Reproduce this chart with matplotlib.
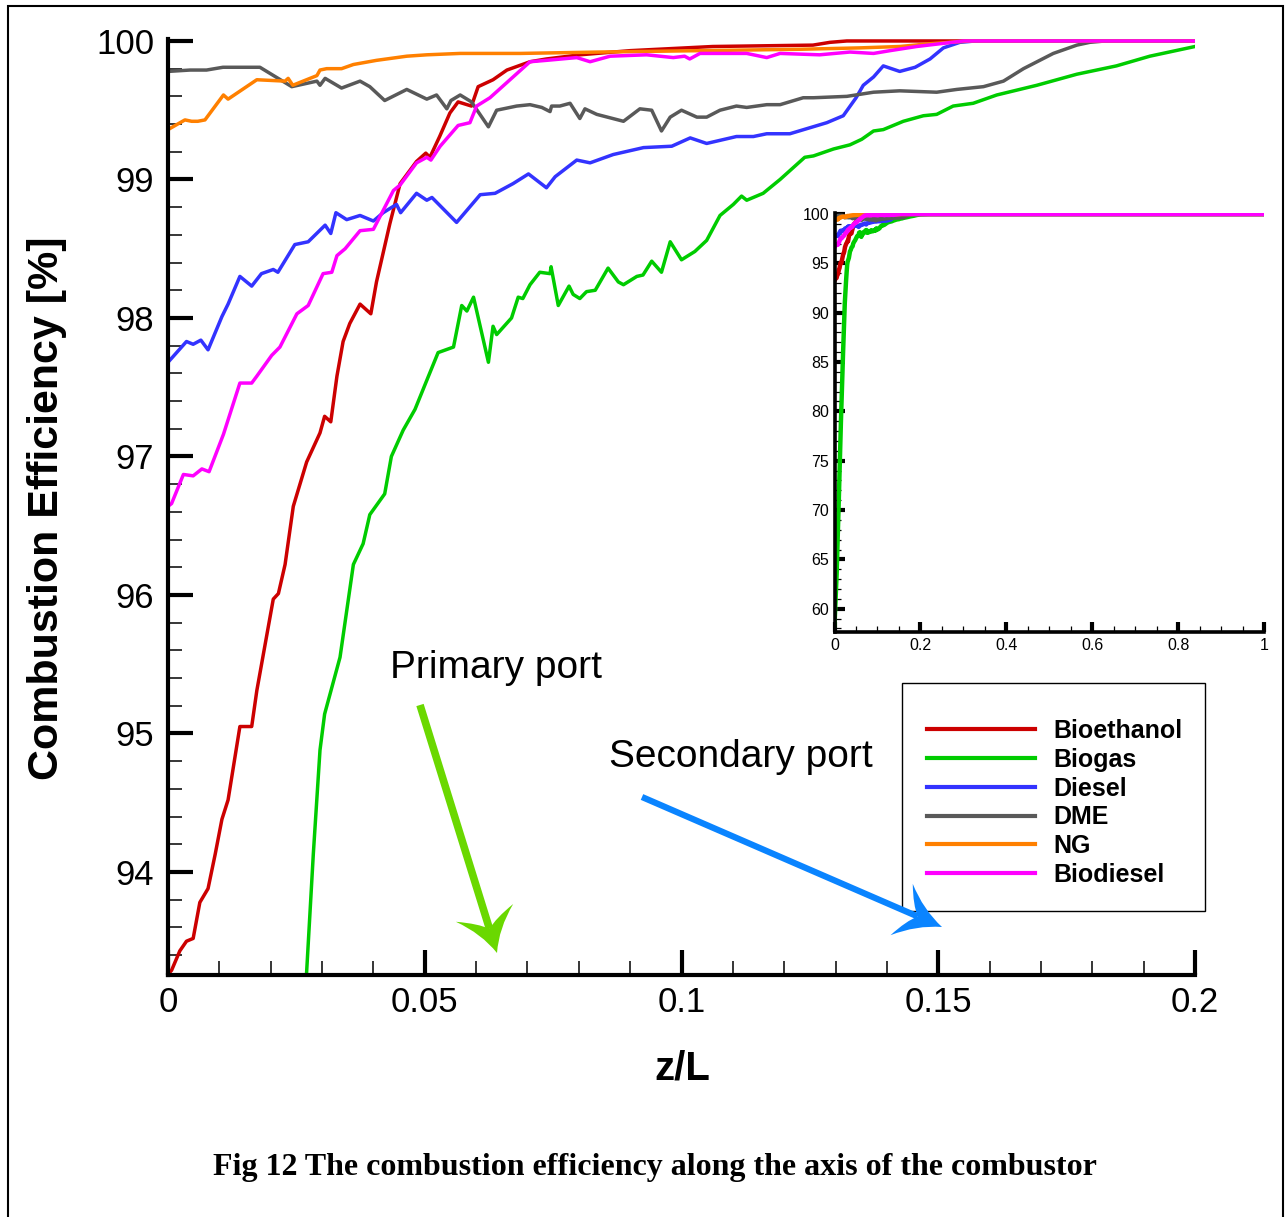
import numpy as np
import matplotlib.pyplot as plt
from matplotlib.lines import Line2D
from matplotlib.patches import PathPatch, Rectangle
from matplotlib.path import Path
from matplotlib.ticker import MultipleLocator

plt.rcParams['font.family'] = ['Liberation Sans', 'DejaVu Sans']

W, H = 1286, 1217

# ---- data: z/L and combustion efficiency [%] ----
x_bioethanol = [0.0, 0.0007, 0.0023, 0.0036, 0.0049, 0.0062, 0.0078, 0.0092, 0.0105, 0.0117,
                0.0140, 0.0163, 0.0173, 0.0205, 0.0215, 0.0228, 0.0244, 0.0270, 0.0296, 0.0305,
                0.0317, 0.0329, 0.0341, 0.0354, 0.0374, 0.0395, 0.0406, 0.0432, 0.0452, 0.0484,
                0.0502, 0.0510, 0.0529, 0.0549, 0.0565, 0.0591, 0.0604, 0.0633, 0.0660, 0.0705,
                0.0737, 0.0802, 0.0900, 0.1061, 0.1256, 0.1289, 0.1322, 1.0]
y_bioethanol = [93.26, 93.29, 93.43, 93.50, 93.52, 93.78, 93.88, 94.13, 94.38, 94.52,
                95.05, 95.05, 95.31, 95.97, 96.01, 96.22, 96.64, 96.96, 97.17, 97.29,
                97.25, 97.58, 97.83, 97.96, 98.10, 98.03, 98.26, 98.68, 98.97, 99.13,
                99.19, 99.16, 99.31, 99.48, 99.56, 99.53, 99.67, 99.72, 99.79, 99.85,
                99.87, 99.90, 99.93, 99.96, 99.97, 99.99, 100.0, 100.0]

x_biogas = [0.0, 0.005, 0.010, 0.015, 0.020, 0.024, 0.0270, 0.0283, 0.0296, 0.0305,
            0.0335, 0.0361, 0.0380, 0.0393, 0.0422, 0.0435, 0.0458, 0.0481, 0.0504, 0.0526,
            0.0556, 0.0572, 0.0582, 0.0595, 0.0624, 0.0633, 0.0640, 0.0669, 0.0682, 0.0691,
            0.0705, 0.0724, 0.0744, 0.0746, 0.0760, 0.0781, 0.0789, 0.0802, 0.0815, 0.0832,
            0.0857, 0.0877, 0.0887, 0.0913, 0.0925, 0.0942, 0.0961, 0.0978, 0.1000, 0.1026,
            0.1049, 0.1075, 0.1101, 0.1117, 0.1127, 0.1159, 0.1192, 0.1240, 0.1257, 0.1296,
            0.1328, 0.1351, 0.1374, 0.1393, 0.1432, 0.1471, 0.1497, 0.1529, 0.1568, 0.1614,
            0.1692, 0.1770, 0.1847, 0.1912, 0.2000, 0.2200, 1.0]
y_biogas = [58.3, 63.5, 71.0, 79.0, 86.0, 91.0, 93.28, 94.13, 94.88, 95.14,
            95.55, 96.22, 96.37, 96.58, 96.73, 97.00, 97.19, 97.34, 97.55, 97.75,
            97.79, 98.09, 98.05, 98.15, 97.68, 97.94, 97.88, 98.00, 98.15, 98.14,
            98.24, 98.33, 98.32, 98.37, 98.09, 98.23, 98.17, 98.14, 98.19, 98.20,
            98.36, 98.26, 98.24, 98.30, 98.31, 98.41, 98.33, 98.55, 98.42, 98.48,
            98.56, 98.74, 98.82, 98.88, 98.85, 98.90, 99.00, 99.16, 99.17, 99.22,
            99.25, 99.29, 99.35, 99.36, 99.42, 99.46, 99.47, 99.53, 99.55, 99.61,
            99.68, 99.76, 99.82, 99.89, 99.96, 100.0, 100.0]

x_diesel = [0.0, 0.0036, 0.0049, 0.0064, 0.0078, 0.0105, 0.0117, 0.0140, 0.0163, 0.0182,
            0.0205, 0.0214, 0.0247, 0.0273, 0.0306, 0.0317, 0.0327, 0.0348, 0.0374, 0.0400,
            0.0419, 0.0445, 0.0453, 0.0484, 0.0504, 0.0514, 0.0562, 0.0608, 0.0637, 0.0672,
            0.0702, 0.0737, 0.0754, 0.0796, 0.0822, 0.0867, 0.0926, 0.0981, 0.1017, 0.1049,
            0.1107, 0.1140, 0.1166, 0.1211, 0.1283, 0.1315, 0.1340, 0.1354, 0.1374, 0.1393,
            0.1425, 0.1455, 0.1484, 0.1510, 0.1542, 0.1572, 1.0]
y_diesel = [97.68, 97.83, 97.81, 97.84, 97.77, 98.01, 98.10, 98.30, 98.23, 98.32,
            98.35, 98.33, 98.53, 98.55, 98.67, 98.61, 98.76, 98.71, 98.74, 98.70,
            98.76, 98.82, 98.76, 98.90, 98.85, 98.87, 98.69, 98.89, 98.90, 98.97,
            99.04, 98.94, 99.02, 99.14, 99.12, 99.18, 99.23, 99.24, 99.30, 99.26,
            99.31, 99.31, 99.33, 99.33, 99.41, 99.46, 99.59, 99.68, 99.74, 99.82,
            99.78, 99.81, 99.87, 99.95, 99.99, 100.0, 100.0]

x_dme = [0.0, 0.0043, 0.0075, 0.0107, 0.0179, 0.0241, 0.0290, 0.0296, 0.0306, 0.0338,
         0.0374, 0.0393, 0.0422, 0.0465, 0.0504, 0.0523, 0.0543, 0.0551, 0.0569, 0.0591,
         0.0624, 0.0640, 0.0679, 0.0705, 0.0728, 0.0744, 0.0747, 0.0763, 0.0783, 0.0802,
         0.0812, 0.0835, 0.0887, 0.0919, 0.0942, 0.0961, 0.0978, 0.1000, 0.1030, 0.1049,
         0.1075, 0.1107, 0.1127, 0.1166, 0.1192, 0.1237, 0.1257, 0.1322, 0.1374, 0.1425,
         0.1497, 0.1536, 0.1588, 0.1627, 0.1666, 0.1724, 0.1770, 0.1795, 0.1825, 1.0]
y_dme = [99.78, 99.79, 99.79, 99.81, 99.81, 99.67, 99.71, 99.68, 99.73, 99.66,
         99.71, 99.67, 99.57, 99.65, 99.58, 99.61, 99.51, 99.57, 99.61, 99.56,
         99.38, 99.50, 99.53, 99.54, 99.52, 99.49, 99.53, 99.53, 99.55, 99.44,
         99.51, 99.47, 99.42, 99.51, 99.50, 99.35, 99.45, 99.50, 99.45, 99.45,
         99.50, 99.53, 99.52, 99.54, 99.54, 99.59, 99.59, 99.60, 99.63, 99.64,
         99.63, 99.65, 99.67, 99.71, 99.80, 99.91, 99.97, 99.99, 100.0, 100.0]

x_ng = [0.0, 0.0033, 0.0046, 0.0058, 0.0072, 0.0108, 0.0117, 0.0173, 0.0228, 0.0234,
        0.0243, 0.0290, 0.0296, 0.0309, 0.0338, 0.0361, 0.0406, 0.0465, 0.0504, 0.0569,
        0.0686, 0.0841, 0.1036, 0.1230, 0.1347, 0.1425, 0.1484, 0.1523, 0.1562, 1.0]
y_ng = [99.36, 99.43, 99.42, 99.42, 99.43, 99.61, 99.58, 99.72, 99.71, 99.73,
        99.68, 99.75, 99.79, 99.80, 99.80, 99.83, 99.86, 99.89, 99.90, 99.91,
        99.91, 99.92, 99.93, 99.94, 99.95, 99.96, 99.98, 99.99, 100.0, 100.0]

x_biodiesel = [0.0, 0.0007, 0.0030, 0.0049, 0.0066, 0.0080, 0.0108, 0.0140, 0.0163, 0.0173,
               0.0202, 0.0218, 0.0251, 0.0273, 0.0302, 0.0319, 0.0329, 0.0345, 0.0374, 0.0400,
               0.0439, 0.0452, 0.0484, 0.0504, 0.0512, 0.0530, 0.0565, 0.0588, 0.0601, 0.0627,
               0.0705, 0.0737, 0.0796, 0.0822, 0.0861, 0.0932, 0.0984, 0.1006, 0.1016, 0.1036,
               0.1127, 0.1166, 0.1192, 0.1269, 0.1328, 0.1374, 0.1406, 0.1458, 0.1549, 1.0]
y_biodiesel = [96.64, 96.66, 96.87, 96.86, 96.91, 96.89, 97.16, 97.53, 97.53, 97.58,
               97.73, 97.79, 98.03, 98.09, 98.32, 98.33, 98.45, 98.50, 98.63, 98.64,
               98.92, 98.96, 99.12, 99.16, 99.14, 99.24, 99.39, 99.41, 99.53, 99.59,
               99.85, 99.86, 99.88, 99.85, 99.89, 99.90, 99.88, 99.89, 99.87, 99.91,
               99.91, 99.88, 99.91, 99.90, 99.92, 99.91, 99.93, 99.96, 100.0, 100.0]

names = ['Bioethanol', 'Biogas', 'Diesel', 'DME', 'NG', 'Biodiesel']
colors = ['#cc0000', '#00cc00', '#3333ff', '#595959', '#ff8000', '#ff00ff']
series = [(x_bioethanol, y_bioethanol), (x_biogas, y_biogas), (x_diesel, y_diesel),
          (x_dme, y_dme), (x_ng, y_ng), (x_biodiesel, y_biodiesel)]

main_xticks = [0, 0.05, 0.1, 0.15, 0.2]
main_xlabels = ['0', '0.05', '0.1', '0.15', '0.2']
main_yticks = [94, 95, 96, 97, 98, 99, 100]
main_ylabels = ['94', '95', '96', '97', '98', '99', '100']
inset_xticks = [0, 0.2, 0.4, 0.6, 0.8, 1.0]
inset_xlabels = ['0', '0.2', '0.4', '0.6', '0.8', '1']
inset_yticks = [60, 65, 70, 75, 80, 85, 90, 95, 100]
inset_ylabels = ['60', '65', '70', '75', '80', '85', '90', '95', '100']

fig = plt.figure(figsize=(W / 100, H / 100), dpi=100)

# ---- main axes ----
ymin, ymax = 93.256, 100.012
ax = fig.add_axes([168 / W, 1 - 975 / H, (1195 - 168) / W, (975 - 39.3) / H])
for (x, y), c, n in zip(series, colors, names):
    ax.plot(x, y, color=c, lw=2.5, label=n)
ax.set_xlim(0, 0.2)
ax.set_ylim(ymin, ymax)
for s in ['top', 'right']:
    ax.spines[s].set_visible(False)
for s in ['left', 'bottom']:
    ax.spines[s].set_linewidth(3)
ax.set_xticks(main_xticks, main_xlabels)
ax.set_yticks(main_yticks, main_ylabels)
ax.xaxis.set_minor_locator(MultipleLocator(0.01))
ax.yaxis.set_minor_locator(MultipleLocator(0.2))
ax.tick_params(which='major', direction='in', length=18, width=3, labelsize=25)
ax.tick_params(which='minor', direction='in', length=10, width=1.1)
ax.tick_params(axis='y', which='major', pad=10)
ax.tick_params(axis='x', which='major', pad=8)

# legend box drawn separately so its padding matches the original
ax.add_patch(Rectangle((902 / W, 1 - 911 / H), (1205 - 902) / W, (911 - 683) / H,
                       fc='white', ec='black', lw=1.0, transform=fig.transFigure,
                       clip_on=False, zorder=4))
leg = ax.legend(loc='upper left', bbox_to_anchor=(902 / W, 1 - 694 / H),
                bbox_transform=fig.transFigure, borderaxespad=0, frameon=False,
                handlelength=4.3, handletextpad=0.76, labelspacing=0.19, borderpad=1.0,
                prop={'weight': 'bold', 'size': 18})
leg.set_zorder(5)
for line in leg.get_lines():
    line.set_linewidth(3)

# ---- inset ----
ins = fig.add_axes([834.5 / W, 1 - 632 / H, (1264 - 834.5) / W, (632 - 212.5) / H])
for (x, y), c in zip(series, colors):
    ins.plot(x, y, color=c, lw=3.2)
ins.set_xlim(0, 1)
ins.set_ylim(57.64, 100.15)
for s in ['top', 'right']:
    ins.spines[s].set_visible(False)
for s in ['left', 'bottom']:
    ins.spines[s].set_linewidth(2.6)
ins.set_xticks(inset_xticks, inset_xlabels)
ins.set_yticks(inset_yticks, inset_ylabels)
ins.xaxis.set_minor_locator(MultipleLocator(0.05))
ins.yaxis.set_minor_locator(MultipleLocator(1))
ins.tick_params(which='major', direction='in', length=7, width=3, labelsize=11.5, pad=4)
ins.tick_params(which='minor', direction='in', length=4.5, width=0.9)

# ---- labels ----
fig.text(47 / W, 1 - 508 / H, 'Combustion Efficiency [%]', rotation=90, ha='center',
         va='center', fontsize=31, fontweight='bold')
fig.text(682 / W, 1 - 1079 / H, 'z/L', ha='center', va='baseline', fontsize=29,
         fontweight='bold')
fig.text(390 / W, 1 - 678 / H, 'Primary port', ha='left', va='baseline', fontsize=28)
fig.text(609 / W, 1 - 767 / H, 'Secondary port', ha='left', va='baseline', fontsize=28)
fig.text(655 / W, 1 - 1175 / H, 'Fig 12 The combustion efficiency along the axis of the combustor',
         ha='center', va='baseline', fontsize=23, fontweight='bold',
         family=['Liberation Serif', 'DejaVu Serif'])


def arrow(x0, y0, x1, y1, color, lw, hl, hw):
    p0 = np.array([x0, H - y0], float)
    tip = np.array([x1, H - y1], float)
    d = (tip - p0) / np.hypot(*(tip - p0))
    n = np.array([-d[1], d[0]])
    left = tip - hl * d + hw * n
    right = tip - hl * d - hw * n
    notch = tip - 0.6 * hl * d
    verts = [tip, tip - 0.55 * hl * d + 0.3 * hw * n, left,
             tip - 0.8 * hl * d + 0.3 * hw * n, notch,
             tip - 0.8 * hl * d - 0.3 * hw * n, right,
             tip - 0.55 * hl * d - 0.3 * hw * n, tip, tip]
    codes = [Path.MOVETO, Path.CURVE3, Path.CURVE3, Path.CURVE3, Path.CURVE3,
             Path.CURVE3, Path.CURVE3, Path.CURVE3, Path.CURVE3, Path.CLOSEPOLY]
    verts = [v / [W, H] for v in verts]
    fig.add_artist(PathPatch(Path(verts, codes), fc=color, ec='none',
                             transform=fig.transFigure))
    fig.add_artist(Line2D([p0[0] / W, notch[0] / W], [p0[1] / H, notch[1] / H],
                          color=color, lw=lw, transform=fig.transFigure,
                          solid_capstyle='butt'))


arrow(420, 705, 497, 953, '#6ad800', 5.5, 42, 30)
arrow(642, 797, 942, 927, '#0a84ff', 4.5, 44, 28)

# page frame
fig.add_artist(Rectangle((7.5 / W, -0.01), (1282.5 - 7.5) / W, 1.01 - 6 / H, fill=False,
                         ec='black', lw=1.5, transform=fig.transFigure, clip_on=False))

fig.savefig('out.png', dpi=100)
